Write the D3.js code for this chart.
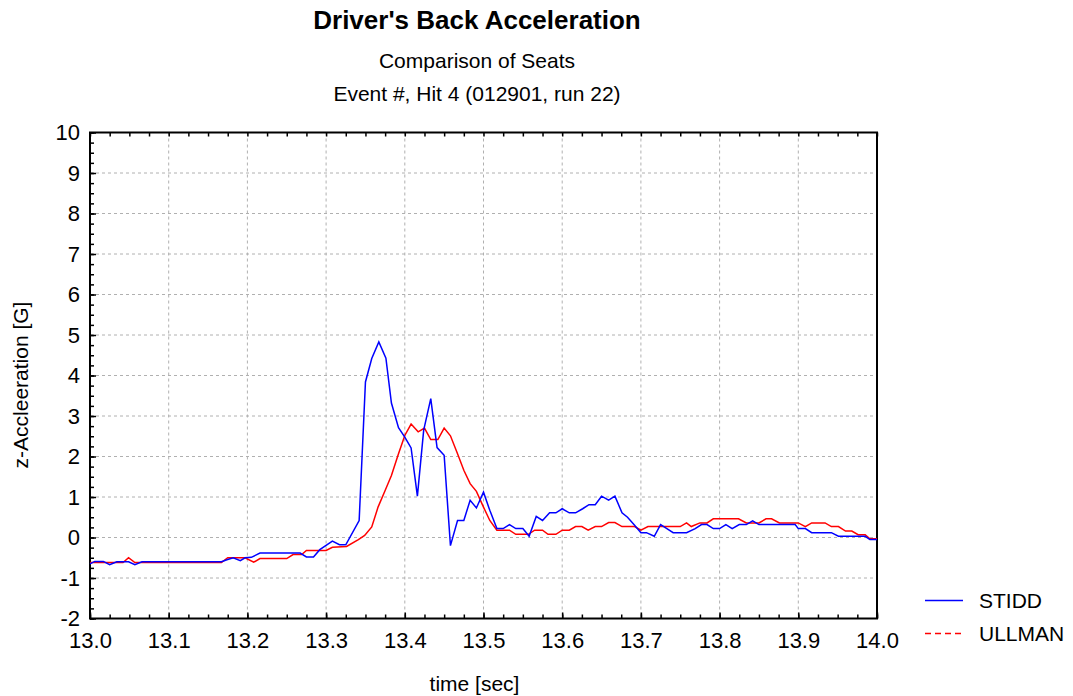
<!DOCTYPE html>
<html>
<head>
<meta charset="utf-8">
<script src="https://cdn.jsdelivr.net/npm/d3@7"></script>
<style>
  body { margin: 0; background: #fff; }
  text { font-family: Arial, "Liberation Sans", sans-serif; fill: #000; }
</style>
</head>
<body>
<div id="chart"></div>
<script>
// data (vertices of each trace)
var stiddTime = [13.000, 13.006, 13.017, 13.025, 13.034, 13.049, 13.057, 13.066, 13.167, 13.174,
  13.182, 13.191, 13.197, 13.205, 13.216, 13.267, 13.275, 13.284, 13.292, 13.308,
  13.317, 13.325, 13.342, 13.350, 13.358, 13.367, 13.376, 13.383, 13.392, 13.400,
  13.408, 13.416, 13.424, 13.433, 13.441, 13.450, 13.458, 13.467, 13.475, 13.483,
  13.491, 13.500, 13.508, 13.517, 13.525, 13.533, 13.541, 13.550, 13.558, 13.567,
  13.575, 13.584, 13.592, 13.600, 13.609, 13.617, 13.626, 13.634, 13.642, 13.650,
  13.659, 13.667, 13.676, 13.683, 13.692, 13.700, 13.707, 13.717, 13.725, 13.733,
  13.741, 13.758, 13.769, 13.777, 13.784, 13.792, 13.800, 13.808, 13.816, 13.825,
  13.834, 13.842, 13.850, 13.896, 13.900, 13.909, 13.917, 13.942, 13.951, 13.985,
  13.991, 14.000];
var stiddAccel = [-0.65, -0.59, -0.59, -0.67, -0.60, -0.60, -0.67, -0.60, -0.60, -0.55,
  -0.50, -0.57, -0.50, -0.49, -0.385, -0.385, -0.48, -0.48, -0.30, -0.09,
  -0.18, -0.18, 0.42, 3.84, 4.42, 4.83, 4.43, 3.32, 2.71, 2.48,
  2.21, 1.02, 2.65, 3.43, 2.22, 2.03, -0.20, 0.42, 0.42, 0.92,
  0.73, 1.12, 0.67, 0.22, 0.22, 0.32, 0.22, 0.22, 0.03, 0.52,
  0.42, 0.61, 0.61, 0.71, 0.61, 0.61, 0.71, 0.81, 0.81, 1.02,
  0.92, 1.02, 0.61, 0.50, 0.30, 0.12, 0.12, 0.03, 0.32, 0.22,
  0.12, 0.12, 0.22, 0.32, 0.32, 0.22, 0.22, 0.32, 0.22, 0.32,
  0.32, 0.41, 0.32, 0.32, 0.22, 0.22, 0.12, 0.12, 0.03, 0.03,
  -0.05, -0.05];

var ullmanTime = [13.000, 13.042, 13.049, 13.057, 13.167, 13.175, 13.197, 13.208, 13.216, 13.250,
  13.258, 13.269, 13.275, 13.300, 13.308, 13.326, 13.341, 13.349, 13.358, 13.366,
  13.375, 13.383, 13.392, 13.400, 13.408, 13.417, 13.425, 13.433, 13.442, 13.450,
  13.458, 13.467, 13.475, 13.483, 13.491, 13.500, 13.508, 13.517, 13.533, 13.541,
  13.557, 13.565, 13.575, 13.582, 13.592, 13.600, 13.609, 13.617, 13.625, 13.633,
  13.642, 13.650, 13.659, 13.667, 13.676, 13.692, 13.700, 13.709, 13.750, 13.758,
  13.764, 13.775, 13.784, 13.792, 13.824, 13.834, 13.850, 13.859, 13.866, 13.876,
  13.900, 13.909, 13.917, 13.934, 13.942, 13.951, 13.960, 13.968, 13.976, 13.985,
  13.991, 14.000];
var ullmanAccel = [-0.62, -0.62, -0.50, -0.62, -0.62, -0.50, -0.50, -0.61, -0.52, -0.52,
  -0.42, -0.42, -0.32, -0.32, -0.24, -0.22, -0.05, 0.05, 0.26, 0.75,
  1.16, 1.53, 2.07, 2.52, 2.80, 2.61, 2.70, 2.42, 2.42, 2.70,
  2.51, 2.07, 1.66, 1.33, 1.14, 0.75, 0.42, 0.18, 0.18, 0.08,
  0.08, 0.18, 0.18, 0.08, 0.08, 0.18, 0.18, 0.27, 0.27, 0.18,
  0.27, 0.27, 0.37, 0.37, 0.27, 0.27, 0.18, 0.27, 0.27, 0.36,
  0.27, 0.36, 0.36, 0.46, 0.46, 0.36, 0.36, 0.46, 0.46, 0.36,
  0.36, 0.27, 0.36, 0.36, 0.27, 0.27, 0.16, 0.16, 0.07, 0.07,
  -0.03, -0.03];

var xTicks = [13.0, 13.1, 13.2, 13.3, 13.4, 13.5, 13.6, 13.7, 13.8, 13.9, 14.0];
var yTicks = [-2, -1, 0, 1, 2, 3, 4, 5, 6, 7, 8, 9, 10];
var seriesNames = ["STIDD", "ULLMAN"];
var seriesColors = ["#0000ff", "#ff0000"];

var svgWidth = 1073;
var svgHeight = 696;
var margin = { top: 132.5, right: 196, bottom: 77.5, left: 90 };
var width = svgWidth - margin.left - margin.right;
var height = svgHeight - margin.top - margin.bottom;

var svg = d3.select("#chart")
  .append("svg")
  .attr("width", svgWidth)
  .attr("height", svgHeight);

var chartGroup = svg.append("g")
  .attr("transform", `translate(${margin.left}, ${margin.top})`);

var xScale = d3.scaleLinear().domain([13, 14]).range([0, width]);
var yScale = d3.scaleLinear().domain([-2, 10]).range([height, 0]);

// grid lines (dotted)
chartGroup.append("g")
  .selectAll("line")
  .data(xTicks.slice(1, -1))
  .enter().append("line")
  .attr("x1", d => xScale(d)).attr("x2", d => xScale(d))
  .attr("y1", 0).attr("y2", height)
  .attr("stroke", "#b0b0b0").attr("stroke-dasharray", "3,3");
chartGroup.append("g")
  .selectAll("line")
  .data(yTicks.slice(1, -1))
  .enter().append("line")
  .attr("y1", d => yScale(d)).attr("y2", d => yScale(d))
  .attr("x1", 0).attr("x2", width)
  .attr("stroke", "#b0b0b0").attr("stroke-dasharray", "3,3");

// minor tick positions
var xMinor = d3.range(0, 41).map(i => 13 + i * 0.025);
var yMinor = d3.range(0, 49).map(i => -2 + i * 0.25);

function styleAxis(g) {
  g.select(".domain").remove();
  g.selectAll(".tick line").attr("stroke", "#000").attr("stroke-width", 1.5);
}

// bottom axis with labels
chartGroup.append("g")
  .attr("transform", `translate(0, ${height})`)
  .call(d3.axisBottom(xScale).tickValues(xTicks).tickFormat(d3.format(".1f"))
    .tickSizeInner(-6).tickSizeOuter(0).tickPadding(14))
  .call(styleAxis)
  .selectAll("text").attr("font-size", "22px");
chartGroup.append("g")
  .attr("transform", `translate(0, ${height})`)
  .call(d3.axisBottom(xScale).tickValues(xMinor).tickFormat("").tickSizeInner(-4).tickSizeOuter(0))
  .call(styleAxis);
// top axis ticks
chartGroup.append("g")
  .call(d3.axisTop(xScale).tickValues(xMinor).tickFormat("").tickSizeInner(-4).tickSizeOuter(0))
  .call(styleAxis);

// left axis with labels (plain hyphen for minus)
chartGroup.append("g")
  .call(d3.axisLeft(yScale).tickValues(yTicks).tickFormat(d => String(d))
    .tickSizeInner(-6).tickSizeOuter(0).tickPadding(10))
  .call(styleAxis)
  .selectAll("text").attr("font-size", "22px");
chartGroup.append("g")
  .call(d3.axisLeft(yScale).tickValues(yMinor).tickFormat("").tickSizeInner(-4).tickSizeOuter(0))
  .call(styleAxis);

// frame
chartGroup.append("rect")
  .attr("x", 0).attr("y", 0)
  .attr("width", width).attr("height", height)
  .attr("fill", "none").attr("stroke", "#000").attr("stroke-width", 2);

// traces
var line = d3.line()
  .x(d => xScale(d[0]))
  .y(d => yScale(d[1]));

var stiddData = stiddTime.map((t, i) => [t, stiddAccel[i]]);
var ullmanData = ullmanTime.map((t, i) => [t, ullmanAccel[i]]);

chartGroup.append("path")
  .datum(ullmanData)
  .attr("d", line)
  .attr("fill", "none")
  .attr("stroke", seriesColors[1])
  .attr("stroke-width", 1.5);

chartGroup.append("path")
  .datum(stiddData)
  .attr("d", line)
  .attr("fill", "none")
  .attr("stroke", seriesColors[0])
  .attr("stroke-width", 1.5);

// titles
svg.append("text")
  .attr("x", 477).attr("y", 29)
  .attr("text-anchor", "middle")
  .attr("font-size", "26px").attr("font-weight", "bold")
  .text("Driver's Back Acceleration");
svg.append("text")
  .attr("x", 477).attr("y", 67.5)
  .attr("text-anchor", "middle")
  .attr("font-size", "21px")
  .text("Comparison of Seats");
svg.append("text")
  .attr("x", 477).attr("y", 100.5)
  .attr("text-anchor", "middle")
  .attr("font-size", "21px")
  .text("Event #, Hit 4 (012901, run 22)");

// axis labels
svg.append("text")
  .attr("x", margin.left + width / 2 - 9).attr("y", 690.5)
  .attr("text-anchor", "middle")
  .attr("font-size", "21px")
  .text("time [sec]");
svg.append("text")
  .attr("transform", `translate(28, ${385}) rotate(-90)`)
  .attr("text-anchor", "middle")
  .attr("font-size", "21px")
  .text("z-Accleeration [G]");

// legend
var legend = svg.append("g");
seriesNames.forEach(function(name, i) {
  var ly = 600.5 + i * 33;
  legend.append("line")
    .attr("x1", 925).attr("x2", 963)
    .attr("y1", ly).attr("y2", ly)
    .attr("stroke", seriesColors[i])
    .attr("stroke-width", 1.3)
    .attr("stroke-dasharray", i === 1 ? "6,4" : null);
  legend.append("text")
    .attr("x", 979).attr("y", ly + 7.5)
    .attr("font-size", "21px")
    .text(name);
});
</script>
</body>
</html>
